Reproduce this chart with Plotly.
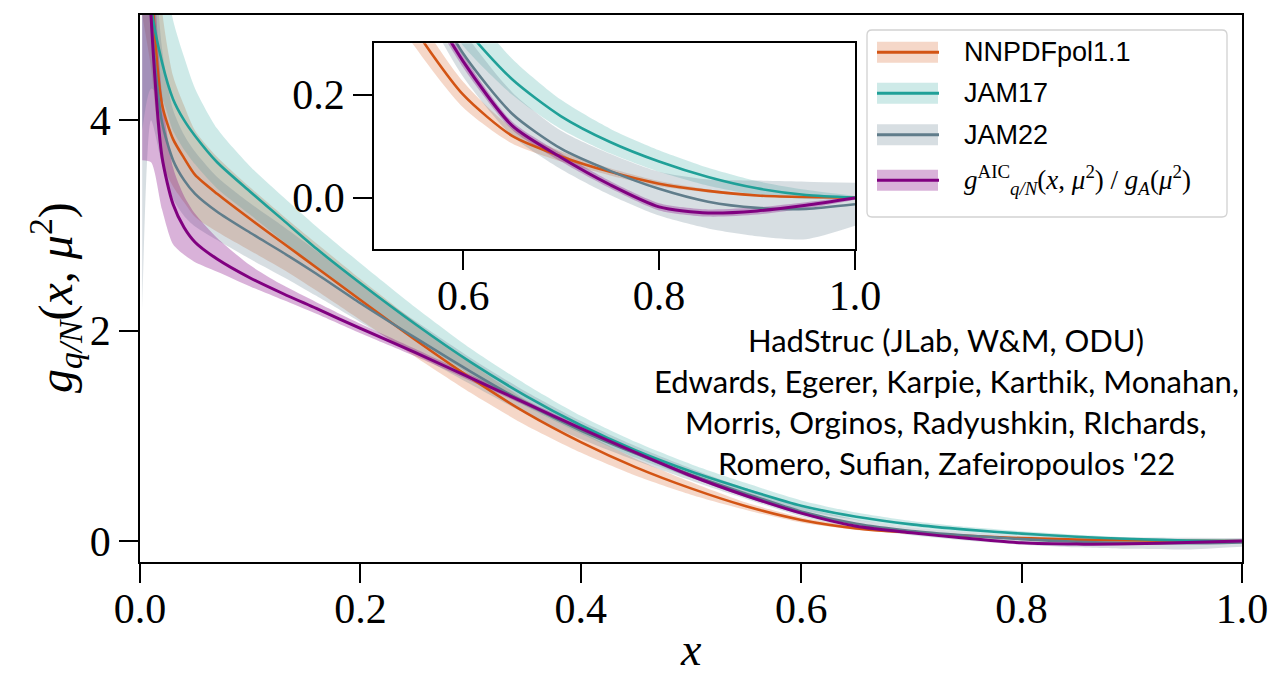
import plotly.graph_objects as go

# ---------------- data ----------------
x = [0.002, 0.01, 0.02, 0.03, 0.04, 0.05, 0.07, 0.1, 0.13, 0.16, 0.2, 0.25, 0.3, 0.35,
     0.4, 0.45, 0.5, 0.55, 0.6, 0.65, 0.7, 0.75, 0.8, 0.85, 0.9, 0.95, 1.0]

nnpdf_c = [8.5, 5.4, 4.15, 3.82, 3.64, 3.48, 3.30, 3.06, 2.83, 2.60, 2.29, 1.91, 1.55, 1.22,
           0.94, 0.70, 0.50, 0.33, 0.20, 0.12, 0.08, 0.05, 0.027, 0.013, 0.004, 0.001, 0.0]
nnpdf_lo = [5.0, 4.5, 3.6, 3.37, 3.22, 3.08, 2.94, 2.76, 2.58, 2.38, 2.10, 1.75, 1.41, 1.10,
            0.84, 0.62, 0.44, 0.295, 0.175, 0.105, 0.07, 0.043, 0.022, 0.01, 0.002, 0.0, -0.001]
nnpdf_hi = [11.0, 7.0, 5.05, 4.42, 4.14, 3.90, 3.65, 3.36, 3.09, 2.83, 2.49, 2.08, 1.69, 1.34,
            1.04, 0.78, 0.56, 0.365, 0.225, 0.135, 0.09, 0.057, 0.032, 0.016, 0.006, 0.002, 0.001]

jam17_c = [9.0, 5.1, 4.55, 4.2, 4.0, 3.85, 3.6, 3.32, 3.05, 2.78, 2.45, 2.06, 1.70, 1.38,
           1.10, 0.86, 0.66, 0.49, 0.335, 0.23, 0.158, 0.108, 0.07, 0.04, 0.018, 0.005, 0.0]
jam17_lo = [3.9, 4.3, 4.2, 3.9, 3.72, 3.58, 3.35, 3.10, 2.85, 2.60, 2.29, 1.92, 1.58, 1.28,
            1.02, 0.79, 0.60, 0.44, 0.295, 0.2, 0.133, 0.086, 0.05, 0.023, 0.005, -0.003, -0.002]
jam17_hi = [12.0, 7.0, 5.6, 4.95, 4.6, 4.3, 3.92, 3.56, 3.27, 2.99, 2.64, 2.22, 1.83, 1.49,
            1.19, 0.94, 0.73, 0.55, 0.385, 0.27, 0.19, 0.134, 0.092, 0.058, 0.032, 0.015, 0.003]

jam22_c = [8.0, 5.0, 3.98, 3.62, 3.43, 3.30, 3.13, 2.93, 2.74, 2.54, 2.26, 1.93, 1.61, 1.31,
           1.05, 0.83, 0.63, 0.45, 0.28, 0.163, 0.095, 0.052, 0.017, -0.008, -0.02, -0.022, -0.013]
jam22_lo = [2.2, 4.0, 3.58, 3.25, 3.09, 2.99, 2.86, 2.68, 2.51, 2.33, 2.08, 1.78, 1.49, 1.21,
            0.97, 0.765, 0.575, 0.40, 0.235, 0.12, 0.055, 0.005, -0.035, -0.06, -0.075, -0.081, -0.055]
jam22_hi = [11.0, 6.2, 4.68, 4.1, 3.86, 3.70, 3.46, 3.21, 2.99, 2.76, 2.45, 2.09, 1.74, 1.42,
            1.14, 0.90, 0.69, 0.50, 0.325, 0.205, 0.13, 0.085, 0.05, 0.035, 0.033, 0.031, 0.029]

aic_c = [8.0, 5.0, 3.65, 3.2, 2.98, 2.84, 2.68, 2.50, 2.35, 2.21, 2.02, 1.79, 1.55, 1.31,
         1.07, 0.84, 0.62, 0.43, 0.265, 0.14, 0.078, 0.025, -0.018, -0.03, -0.026, -0.015, -0.001]
aic_lo = [3.62, 3.6, 3.15, 2.82, 2.72, 2.65, 2.56, 2.42, 2.29, 2.16, 1.975, 1.755, 1.52, 1.285,
          1.045, 0.82, 0.60, 0.415, 0.253, 0.132, 0.07, 0.018, -0.025, -0.037, -0.033, -0.021, -0.004]
aic_hi = [11.0, 6.0, 4.25, 3.55, 3.28, 3.11, 2.88, 2.62, 2.43, 2.27, 2.065, 1.825, 1.58, 1.335,
          1.095, 0.86, 0.64, 0.445, 0.277, 0.148, 0.086, 0.032, -0.011, -0.023, -0.019, -0.009, 0.002]

series_names = ["NNPDFpol1.1", "JAM17", "JAM22",
                "<i>g</i><sup>AIC</sup><sub><i>q/N</i></sub>(<i>x</i>, <i>μ</i><sup>2</sup>) / <i>g<sub>A</sub></i>(<i>μ</i><sup>2</sup>)"]

main_xticks = [0.0, 0.2, 0.4, 0.6, 0.8, 1.0]
main_xtext = ["0.0", "0.2", "0.4", "0.6", "0.8", "1.0"]
main_yticks = [0, 2, 4]
main_ytext = ["0", "2", "4"]
inset_xticks = [0.6, 0.8, 1.0]
inset_xtext = ["0.6", "0.8", "1.0"]
inset_yticks = [0.0, 0.2]
inset_ytext = ["0.0", "0.2"]

credit_lines = ["HadStruc (JLab, W&amp;M, ODU)",
                "Edwards, Egerer, Karpie, Karthik, Monahan,",
                "Morris, Orginos, Radyushkin, RIchards,",
                "Romero, Sufian, Zafeiropoulos '22"]

# ---------------- styling ----------------
line_cols = ["rgb(211,84,20)", "rgb(32,160,152)", "rgb(96,125,139)", "rgb(128,0,128)"]
band_cols = ["rgba(215,95,35,0.25)", "rgba(32,160,152,0.22)", "rgba(96,125,139,0.25)",
             "rgba(128,0,128,0.30)"]
line_w = [2.6, 2.6, 2.6, 3.0]
SM = 0.7

centers = [nnpdf_c, jam17_c, jam22_c, aic_c]
lows = [nnpdf_lo, jam17_lo, jam22_lo, aic_lo]
highs = [nnpdf_hi, jam17_hi, jam22_hi, aic_hi]

W, H = 1287, 678
L, R, T, B = 140, 45, 15, 116
PW, PH = W - L - R, H - T - B


def px(xp):
    return (xp - L) / PW


def py(yp):
    return (H - B - yp) / PH


fig = go.Figure()

for ax_x, ax_y in [("x", "y"), ("x2", "y2")]:
    for i in range(4):
        fig.add_trace(go.Scatter(x=x, y=lows[i], mode="lines",
                                 line=dict(width=0, shape="spline", smoothing=SM),
                                 xaxis=ax_x, yaxis=ax_y, showlegend=False, hoverinfo="skip"))
        fig.add_trace(go.Scatter(x=x, y=highs[i], mode="lines",
                                 line=dict(width=0, shape="spline", smoothing=SM),
                                 fill="tonexty", fillcolor=band_cols[i],
                                 xaxis=ax_x, yaxis=ax_y, showlegend=False, hoverinfo="skip"))
    for i in range(4):
        fig.add_trace(go.Scatter(x=x, y=centers[i], mode="lines",
                                 line=dict(color=line_cols[i], width=line_w[i], shape="spline",
                                           smoothing=SM),
                                 xaxis=ax_x, yaxis=ax_y, showlegend=False))

tickfont = dict(family="Liberation Serif", size=42, color="black")
axis_common = dict(showline=True, linecolor="black", linewidth=1.5, mirror=True,
                   ticks="outside", ticklen=19, tickwidth=1.5, tickcolor="black",
                   showgrid=False, zeroline=False, tickfont=tickfont)

fig.update_layout(
    width=W, height=H,
    margin=dict(l=L, r=R, t=T, b=B),
    paper_bgcolor="white", plot_bgcolor="white",
    showlegend=False,
    xaxis=dict(range=[0, 1], tickvals=main_xticks, ticktext=main_xtext, domain=[0, 1],
               ticklabelstandoff=-10, **axis_common),
    yaxis=dict(range=[-0.2, 5.0], tickvals=main_yticks, ticktext=main_ytext, domain=[0, 1],
               **axis_common),
    xaxis2=dict(range=[0.509, 1.0], tickvals=inset_xticks, ticktext=inset_xtext, anchor="y2",
                domain=[px(374), px(855)], ticklabelstandoff=-10, **axis_common),
    yaxis2=dict(range=[-0.1, 0.3], tickvals=inset_yticks, ticktext=inset_ytext, anchor="x2",
                domain=[py(249), py(43.3)], **axis_common),
)

# axis titles
fig.add_annotation(text="<i>g</i><sub><i>q/N</i></sub>(<i>x</i>, <i>μ</i><sup>2</sup>)",
                   xref="paper", yref="paper", x=px(55), y=py(298), textangle=-90,
                   showarrow=False, xanchor="center", yanchor="middle",
                   font=dict(family="Liberation Serif", size=48, color="black"))
fig.add_annotation(text="<i>x</i>", xref="paper", yref="paper", x=0.5, y=py(677),
                   showarrow=False, xanchor="center", yanchor="bottom",
                   font=dict(family="Liberation Serif", size=46, color="black"))

# credits text
for k, (txt, yc) in enumerate(zip(credit_lines, [340, 381, 422, 463])):
    fig.add_annotation(text=txt, xref="paper", yref="paper", x=px(946), y=py(yc),
                       showarrow=False, xanchor="center", yanchor="middle",
                       font=dict(family="Lato", size=31, color="black"))

# manual legend (box with rounded corners)
x0, x1, y0, y1 = px(867), px(1227), py(217), py(30)
rx, ry = 5 / PW, 5 / PH
path = (f"M {x0+rx},{y1} L {x1-rx},{y1} Q {x1},{y1} {x1},{y1-ry} L {x1},{y0+ry} "
        f"Q {x1},{y0} {x1-rx},{y0} L {x0+rx},{y0} Q {x0},{y0} {x0},{y0+ry} "
        f"L {x0},{y1-ry} Q {x0},{y1} {x0+rx},{y1} Z")
fig.add_shape(type="path", path=path, xref="paper", yref="paper",
              line=dict(color="rgb(210,210,210)", width=1.3),
              fillcolor="rgba(255,255,255,0.85)", layer="above")

leg_y = [52.3, 93.3, 134.7, 180.3]
for i in range(4):
    yc = leg_y[i]
    fig.add_shape(type="rect", xref="paper", yref="paper",
                  x0=px(877), x1=px(938), y0=py(yc + 10.5), y1=py(yc - 10.5),
                  line=dict(width=0), fillcolor=band_cols[i], layer="above")
    fig.add_shape(type="line", xref="paper", yref="paper",
                  x0=px(877), x1=px(939), y0=py(yc), y1=py(yc),
                  line=dict(color=line_cols[i], width=3), layer="above")
    fam = "Liberation Serif" if i == 3 else "Liberation Sans"
    fig.add_annotation(text=series_names[i], xref="paper", yref="paper",
                       x=px(962), y=py(yc), showarrow=False, xanchor="left", yanchor="middle",
                       font=dict(family=fam, size=27, color="black"))

fig.write_html("out.html")
